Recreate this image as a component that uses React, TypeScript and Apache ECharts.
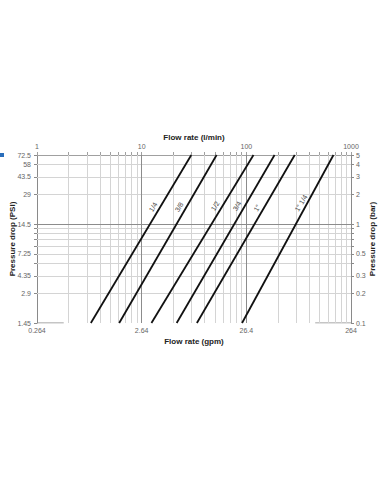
import React, { useEffect, useRef } from "react";
import * as echarts from "echarts";

// Valve sizes and their flow (l/min) at the lowest and highest pressure drop shown
const sizes = ['1/4', '3/8', '1/2', '3/4', '1"', '1" 1/4'];
const flowAtLowBar = [3.27, 6.1, 12.4, 21.6, 33.7, 91];
const flowAtHighBar = [29.8, 52, 117, 186, 290, 680];
const pressureBar = [0.1, 5];

// Axis ticks
const flowLminTicks = [1, 10, 100, 1000];
const flowGpmLabels = ['0.264', '2.64', '26.4', '264'];
const barTicks = [0.1, 0.2, 0.3, 0.5, 1, 2, 3, 4, 5];
const psiTicks = [1.45, 2.9, 4.35, 7.25, 14.5, 29, 43.5, 58, 72.5];
const psiLabels = ['1.45', '2.9', '4.35', '7.25', '14.5', '29', '43.5', '58', '72.5'];

// Grid lines
const xMinorGrid = [2, 3, 4, 5, 6, 7, 8, 9, 20, 30, 40, 50, 60, 70, 80, 90, 200, 300, 400, 500, 600, 700, 800, 900];
const xMajorGrid = [10, 100];
const yMinorGrid = [0.2, 0.3, 0.4, 0.5, 0.6, 0.7, 0.8, 0.9, 2, 3, 4];
const yMajorGrid = [1];
const yAllTicksBar = [0.1, 0.2, 0.3, 0.4, 0.5, 0.6, 0.7, 0.8, 0.9, 1, 2, 3, 4, 5];
const xAllTicks = [1, ...xMinorGrid.slice(0, 8), 10, ...xMinorGrid.slice(8, 16), 100, ...xMinorGrid.slice(16), 1000];
// Visible fragments of the bottom axis line (l/min)
const bottomAxisSegments = [[1, 1.8], [455, 1000]];

// Label placement (pixels) for the size labels
const labelPos: [number, number][] = [[153, 207], [179, 207], [215, 206], [237, 206], [257, 208], [301, 203]];

const PSI_PER_BAR = 14.5;
const FONT = '"Liberation Sans", Arial, sans-serif';

function nearestLabel(v: number, vals: number[], labels: string[]) {
  let best = 0;
  let bd = Infinity;
  vals.forEach((t, i) => {
    const d = Math.abs(Math.log(v) - Math.log(t));
    if (d < bd) { bd = d; best = i; }
  });
  return bd < 0.05 ? labels[best] : '';
}

export default function App() {
  const ref = useRef<HTMLDivElement>(null);
  useEffect(() => {
    if (!ref.current) return;
    const chart = echarts.init(ref.current, undefined, { renderer: "svg" });
    const axisGray = '#8a8a8a';
    const labelStyle = { color: '#666', fontSize: 7, fontFamily: FONT };
    const nameStyle = { color: '#222', fontSize: 8, fontWeight: 'bold' as const, fontFamily: FONT };

    const lineSeries = sizes.map((s, i) => ({
      name: s,
      type: 'line' as const,
      xAxisIndex: 0,
      yAxisIndex: 1,
      showSymbol: false,
      symbol: 'none',
      z: 5,
      lineStyle: { color: '#111', width: 1.8 },
      data: [[flowAtLowBar[i], pressureBar[0]], [flowAtHighBar[i], pressureBar[1]]],
    }));

    const gridSeries = {
      type: 'line' as const,
      xAxisIndex: 0,
      yAxisIndex: 1,
      symbol: 'none',
      showSymbol: false,
      z: 1,
      lineStyle: { opacity: 0 },
      data: [[1, 0.1]],
      markLine: {
        silent: true,
        symbol: ['none', 'none'],
        label: { show: false },
        animation: false,
        lineStyle: { color: '#d4d4d4', width: 1, type: 'solid' as const },
        data: [
          ...xMinorGrid.map((v) => ({ xAxis: v })),
          ...yMinorGrid.map((v) => ({ yAxis: v })),
          ...xMajorGrid.map((v) => ({ xAxis: v, lineStyle: { color: '#8c8c8c', width: 1, type: 'solid' as const } })),
          ...yMajorGrid.map((v) => ({ yAxis: v, lineStyle: { color: '#8c8c8c', width: 1, type: 'solid' as const } })),
        ],
      },
    };

    const bottomSegSeries = bottomAxisSegments.map((seg) => ({
      type: 'line' as const,
      xAxisIndex: 0,
      yAxisIndex: 1,
      symbol: 'none',
      showSymbol: false,
      z: 2,
      lineStyle: { color: axisGray, width: 1 },
      data: [[seg[0], pressureBar[0]], [seg[1], pressureBar[0]]],
    }));

    chart.setOption({
      animation: false,
      backgroundColor: '#fff',
      grid: { left: 36, right: 39, top: 155, bottom: 161, containLabel: false },
      xAxis: [
        {
          type: 'log', position: 'bottom', min: 1, max: 1000, logBase: 10,
          name: 'Flow rate (gpm)', nameLocation: 'middle', nameGap: 14, nameTextStyle: nameStyle,
          nameMoveOverlap: false,
          axisLine: { show: false },
          axisTick: { show: false },
          splitLine: { show: false },
          axisLabel: {
            ...labelStyle, margin: 4,
            formatter: (v: number) => nearestLabel(v, flowLminTicks, flowGpmLabels),
          },
        },
        {
          type: 'log', position: 'top', min: 1, max: 1000, logBase: 10,
          name: 'Flow rate (l/min)', nameLocation: 'middle', nameGap: 14, nameTextStyle: nameStyle,
          nameMoveOverlap: false,
          axisLine: { show: true, lineStyle: { color: '#a0a0a0', width: 1 } },
          axisTick: { show: true, length: 3, lineStyle: { color: '#a0a0a0' }, customValues: xAllTicks },
          splitLine: { show: false },
          axisLabel: {
            ...labelStyle, margin: 5,
            formatter: (v: number) => nearestLabel(v, flowLminTicks, flowLminTicks.map(String)),
          },
        },
      ],
      yAxis: [
        {
          type: 'log', position: 'left', min: psiTicks[0], max: psiTicks[psiTicks.length - 1], logBase: 10,
          name: 'Pressure drop (PSI)', nameLocation: 'middle', nameGap: 21, nameRotate: 90, nameTextStyle: nameStyle,
          nameMoveOverlap: false,
          axisLine: { show: true, lineStyle: { color: axisGray, width: 1 } },
          axisTick: { show: true, length: 3, lineStyle: { color: axisGray }, customValues: yAllTicksBar.map((b) => b * PSI_PER_BAR) },
          splitLine: { show: false },
          axisLabel: {
            ...labelStyle, margin: 6, customValues: psiTicks,
            formatter: (v: number) => nearestLabel(v, psiTicks, psiLabels),
          },
        },
        {
          type: 'log', position: 'right', min: pressureBar[0], max: pressureBar[1], logBase: 10,
          name: 'Pressure drop (bar)', nameLocation: 'middle', nameGap: 17, nameRotate: 90, nameTextStyle: nameStyle,
          nameMoveOverlap: false,
          axisLine: { show: true, lineStyle: { color: axisGray, width: 1 } },
          axisTick: { show: true, length: 3, lineStyle: { color: axisGray }, customValues: yAllTicksBar },
          splitLine: { show: false },
          axisLabel: {
            ...labelStyle, margin: 5, customValues: barTicks,
            formatter: (v: number) => nearestLabel(v, barTicks, barTicks.map(String)),
          },
        },
      ],
      series: [gridSeries, ...bottomSegSeries, ...lineSeries],
      graphic: [
        { type: 'rect', left: 0, top: 153, shape: { width: 4, height: 4 }, style: { fill: '#2a6ebb' } },
        ...sizes.map((s, i) => ({
          type: 'text',
          x: labelPos[i][0],
          y: labelPos[i][1],
          rotation: (59 * Math.PI) / 180,
          z: 10,
          style: {
            text: s, fill: '#444', fontSize: 7, fontFamily: FONT,
            align: 'center', verticalAlign: 'middle',
          },
        })),
      ],
    });
    return () => chart.dispose();
  }, []);
  return <div ref={ref} style={{ width: 390, height: 484, position: 'absolute', left: 0, top: 0 }} />;
}
